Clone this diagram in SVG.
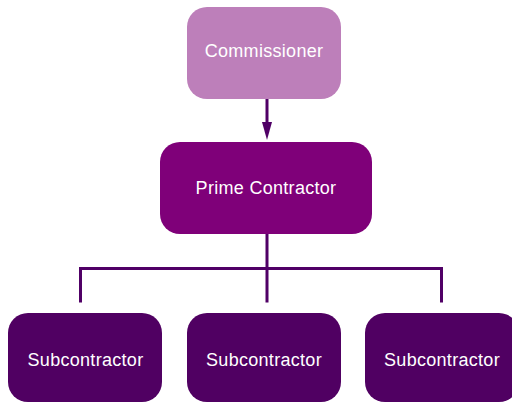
<svg xmlns="http://www.w3.org/2000/svg" width="512" height="403" viewBox="0 0 512 403">
<style>
.lbl{font-family:"Liberation Sans",Arial,Helvetica,sans-serif;font-size:18px;letter-spacing:0.3px;fill:#ffffff;text-anchor:middle}
.conn{stroke:#500066;stroke-width:3;fill:none}
.sub{fill:#500062}
</style>
<rect width="512" height="403" fill="#ffffff"/>
<g id="connectors">
<line class="conn" x1="267" y1="99" x2="267" y2="124"/>
<polygon points="262,122 272,122 267,140" fill="#500066"/>
<path class="conn" d="M267 234 V268.5 M80.5 302.5 V268.5 H441.5 V302.5 M267 268.5 V302.5"/>
</g>
<g id="commissioner">
<rect x="187" y="7" width="154" height="92" rx="20" fill="#bd7fba"/>
<text class="lbl" x="264" y="57">Commissioner</text>
</g>
<g id="prime">
<rect x="160" y="142" width="212" height="92" rx="20" fill="#7f0079"/>
<text class="lbl" x="266" y="194">Prime Contractor</text>
</g>
<g id="sub1">
<rect class="sub" x="8" y="313" width="154" height="89" rx="20"/>
<text class="lbl" x="85.5" y="366">Subcontractor</text>
</g>
<g id="sub2">
<rect class="sub" x="187" y="313" width="154" height="89" rx="20"/>
<text class="lbl" x="264" y="366">Subcontractor</text>
</g>
<g id="sub3">
<rect class="sub" x="365" y="313" width="154" height="89" rx="20"/>
<text class="lbl" x="442" y="366">Subcontractor</text>
</g>
</svg>
